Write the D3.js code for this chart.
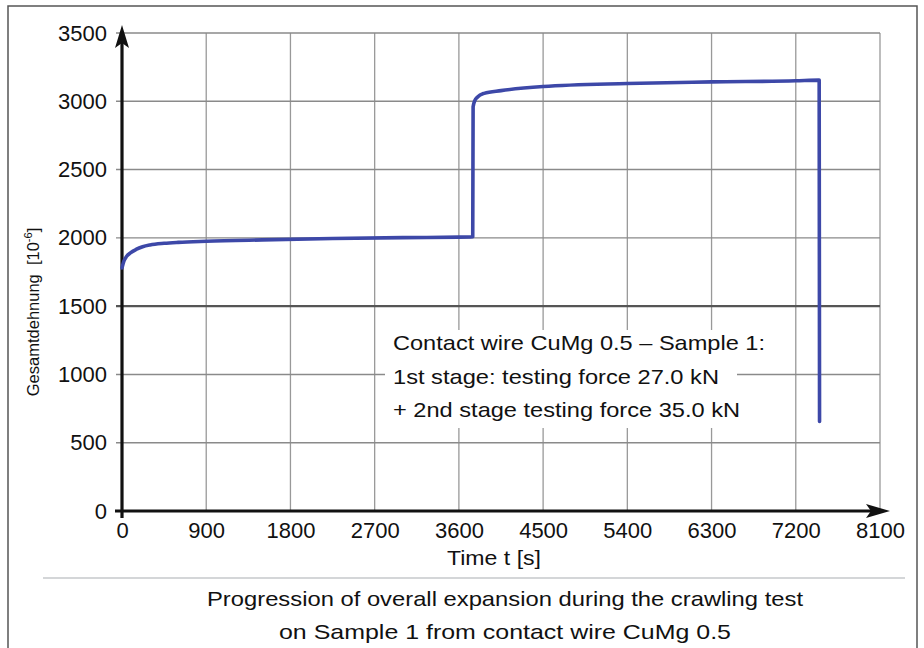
<!DOCTYPE html>
<html>
<head>
<meta charset="utf-8">
<script src="https://cdn.jsdelivr.net/npm/d3@7"></script>
<style>
  body { margin: 0; background: #fff; }
  text { font-family: "Liberation Sans", Arial, Helvetica, sans-serif; fill: #111; }
</style>
</head>
<body>
<div id="chartContainer"></div>
<script>
// time [s] and total strain [10^-6]
var timeS = [0, 20, 50, 90, 150, 220, 300, 450, 600, 900, 1500, 2250, 3000, 3600, 3748,
  3752, 3770, 3800, 3870, 4050, 4500, 5400, 6300, 7200, 7450, 7454];
var strain = [1780, 1830, 1865, 1890, 1915, 1935, 1948, 1960, 1967, 1975, 1985, 1995, 2002, 2005, 2008,
  2960, 3005, 3032, 3058, 3078, 3108, 3130, 3142, 3150, 3155, 655];

var xTicks = [0, 900, 1800, 2700, 3600, 4500, 5400, 6300, 7200, 8100];
var yTicks = [0, 500, 1000, 1500, 2000, 2500, 3000, 3500];

var noteLines = ['Contact wire CuMg 0.5 \u2013 Sample 1:',
  '1st stage: testing force 27.0 kN',
  '+ 2nd stage testing force 35.0 kN'];
var captionLines = ['Progression of overall expansion during the crawling test',
  'on Sample 1 from contact wire CuMg 0.5'];

var width = 924,
    height = 648;

var svg = d3.select('#chartContainer')
    .append('svg')
    .attr('width', width)
    .attr('height', height);

var xScale = d3.scaleLinear().domain([0, 8100]).range([122, 880]);
var yScale = d3.scaleLinear().domain([0, 3500]).range([511, 33]);

// outer frame, open at the bottom
svg.append('rect')
    .attr('x', 8).attr('y', 6)
    .attr('width', 909).attr('height', 680)
    .attr('fill', 'none')
    .attr('stroke', '#555')
    .attr('stroke-width', 1.5);

// grid
svg.append('g').selectAll('line')
    .data(xTicks.slice(1))
    .enter()
    .append('line')
    .attr('x1', d => xScale(d)).attr('x2', d => xScale(d))
    .attr('y1', yScale(3500)).attr('y2', yScale(0))
    .attr('stroke', '#999')
    .attr('stroke-width', 1.3);

svg.append('g').selectAll('line')
    .data(yTicks.slice(1))
    .enter()
    .append('line')
    .attr('x1', 116).attr('x2', xScale(8100))
    .attr('y1', d => yScale(d)).attr('y2', d => yScale(d))
    .attr('stroke', d => d === 1500 ? '#555' : '#8a8a8a')
    .attr('stroke-width', d => d === 1500 ? 2.2 : 1.4);

// white box behind the note
svg.append('rect')
    .attr('x', 385).attr('y', 330)
    .attr('width', 352).attr('height', 98)
    .attr('fill', '#fff');

var noteWidths = [372, 326, 347];
svg.append('g').selectAll('text')
    .data(noteLines)
    .enter()
    .append('text')
    .attr('x', 393)
    .attr('y', (d, i) => 350 + i * 33.5)
    .attr('textLength', (d, i) => noteWidths[i])
    .attr('lengthAdjust', 'spacingAndGlyphs')
    .style('font-size', '21px')
    .text(d => d);

// axes with arrow heads
var xAxis = d3.axisBottom(xScale).tickValues(xTicks).tickFormat(d3.format('d'))
    .tickSize(0).tickPadding(11);
svg.append('g')
    .attr('id', 'x-axis')
    .attr('transform', 'translate(0,' + yScale(0) + ')')
    .call(xAxis)
    .call(g => g.select('.domain').remove())
    .selectAll('text')
    .style('font-size', '22px')
    .attr('fill', '#111');

var yAxis = d3.axisLeft(yScale).tickValues(yTicks).tickFormat(d3.format('d'))
    .tickSize(0).tickPadding(15);
svg.append('g')
    .attr('id', 'y-axis')
    .attr('transform', 'translate(' + xScale(0) + ',0)')
    .call(yAxis)
    .call(g => g.select('.domain').remove())
    .selectAll('text')
    .style('font-size', '22px')
    .attr('fill', '#111');

svg.append('line')
    .attr('x1', 115).attr('x2', 875)
    .attr('y1', yScale(0)).attr('y2', yScale(0))
    .attr('stroke', '#111').attr('stroke-width', 3.2);
svg.append('path')
    .attr('d', 'M890,' + yScale(0) + ' L866,' + (yScale(0) - 7) + ' L871,' + yScale(0) +
      ' L866,' + (yScale(0) + 7) + ' Z')
    .attr('fill', '#111');

svg.append('line')
    .attr('x1', xScale(0)).attr('x2', xScale(0))
    .attr('y1', 518).attr('y2', 40)
    .attr('stroke', '#111').attr('stroke-width', 3.2);
svg.append('path')
    .attr('d', 'M' + xScale(0) + ',25 L' + (xScale(0) - 7) + ',48 L' + xScale(0) + ',43 L' +
      (xScale(0) + 7) + ',48 Z')
    .attr('fill', '#111');

// strain curve
var line = d3.line()
    .x((d, i) => xScale(timeS[i]))
    .y(d => yScale(d))
    .curve(d3.curveMonotoneX);

svg.append('path')
    .datum(strain)
    .attr('d', line)
    .attr('fill', 'none')
    .attr('stroke', '#3d48a8')
    .attr('stroke-width', 3.6)
    .attr('stroke-linejoin', 'round')
    .attr('stroke-linecap', 'round');

// titles
svg.append('text')
    .attr('transform', 'translate(39,312) rotate(-90)')
    .attr('text-anchor', 'middle')
    .style('font-size', '16.5px')
    .html('Gesamtdehnung\u00a0\u00a0[10<tspan dy="-7" font-size="11">-6</tspan><tspan dy="7">]</tspan>');

svg.append('text')
    .attr('x', 494).attr('y', 565)
    .attr('text-anchor', 'middle')
    .attr('textLength', 94)
    .attr('lengthAdjust', 'spacingAndGlyphs')
    .style('font-size', '21px')
    .text('Time t [s]');

svg.append('line')
    .attr('x1', 43).attr('x2', 905)
    .attr('y1', 578).attr('y2', 578)
    .attr('stroke', '#d4d6d8').attr('stroke-width', 2);

var captionWidths = [596, 452];
svg.append('g').selectAll('text')
    .data(captionLines)
    .enter()
    .append('text')
    .attr('x', 505)
    .attr('y', (d, i) => 606 + i * 33)
    .attr('text-anchor', 'middle')
    .attr('textLength', (d, i) => captionWidths[i])
    .attr('lengthAdjust', 'spacingAndGlyphs')
    .style('font-size', '21px')
    .text(d => d);
</script>
</body>
</html>
